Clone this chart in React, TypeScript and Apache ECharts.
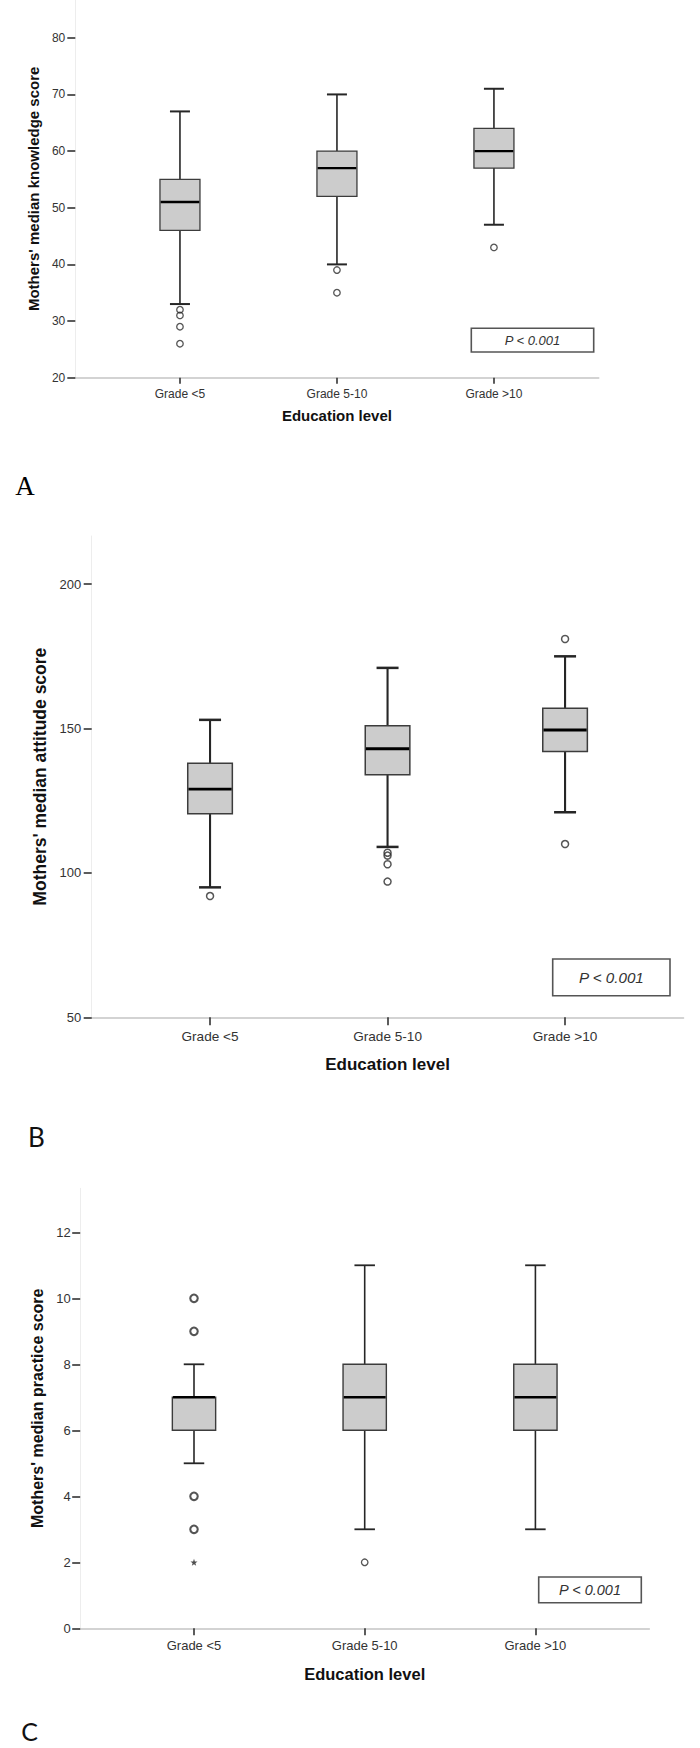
import React, { useEffect, useRef } from 'react';
import * as echarts from 'echarts';

// ---------- data ----------
const categories = ['Grade <5', 'Grade 5-10', 'Grade >10'];
const categoryPositions = [1, 2, 3];

// [position, lowerWhisker, Q1, median, Q3, upperWhisker]
const knowledgeBoxes = [
  [1, 33, 46, 51, 55, 67],
  [2, 40, 52, 57, 60, 70],
  [3, 47, 57, 60, 64, 71],
];
const knowledgeOutliers = [[1, 32], [1, 31], [1, 29], [1, 26], [2, 39], [2, 35], [3, 43]];
const knowledgeTicks = [20, 30, 40, 50, 60, 70, 80];

const attitudeBoxes = [
  [1, 95, 120.5, 129, 138, 153],
  [2, 109, 134, 143, 151, 171],
  [3, 121, 142, 149.5, 157, 175],
];
const attitudeOutliers = [[1, 92], [2, 107], [2, 106], [2, 103], [2, 97], [3, 181], [3, 110]];
const attitudeTicks = [50, 100, 150, 200];

const practiceBoxes = [
  [1, 5, 6, 7, 7, 8],
  [2, 3, 6, 7, 8, 11],
  [3, 3, 6, 7, 8, 11],
];
const practiceOutliersBold = [[1, 10], [1, 9], [1, 4], [1, 3]];
const practiceOutliersThin = [[2, 2]];
const practiceExtremes = [[1, 2]];
const practiceTicks = [0, 2, 4, 6, 8, 10, 12];

const pValueText = 'P < 0.001';
const xTitle = 'Education level';

// ---------- layout / style ----------
const SANS = "'Liberation Sans', Arial, sans-serif";
const panels = [
  {
    yTitle: "Mothers' median knowledge score",
    boxes: knowledgeBoxes, ticks: knowledgeTicks, yMin: 20, yMax: 86.667,
    grid: { left: 75.3, top: -27, width: 523.3, height: 404.7 },
    boxWidth: 40, capWidth: 20, whisker: 1.6, cap: 2, median: 2.4, boxStroke: 1.3,
    tickFont: 12, xLabelFont: 12, xLabelMargin: 10, xTickLen: 6, yLabelMargin: 10,
    yTitleFont: 15, yTitleGap: 30, xTitleFont: 15, xTitleGap: 30,
    pBox: { x: 471.3, y: 328.3, w: 122.4, h: 23.7, font: 13 },
  },
  {
    yTitle: "Mothers' median attitude score",
    boxes: attitudeBoxes, ticks: attitudeTicks, yMin: 50, yMax: 216.667,
    grid: { left: 91.7, top: 536, width: 591.7, height: 481.3 },
    boxWidth: 44.6, capWidth: 22, whisker: 2.1, cap: 2.5, median: 2.9, boxStroke: 1.5,
    tickFont: 13, xLabelFont: 13.6, xLabelMargin: 12, xTickLen: 8, yLabelMargin: 10.5,
    yTitleFont: 17.5, yTitleGap: 42, xTitleFont: 17, xTitleGap: 39,
    pBox: { x: 552.7, y: 959, w: 117.3, h: 36.7, font: 15.2 },
  },
  {
    yTitle: "Mothers' median practice score",
    boxes: practiceBoxes, ticks: practiceTicks, yMin: 0, yMax: 13.333,
    grid: { left: 80.2, top: 1188.3, width: 569, height: 440 },
    boxWidth: 43.3, capWidth: 20.5, whisker: 1.6, cap: 1.8, median: 2.4, boxStroke: 1.4,
    tickFont: 13, xLabelFont: 13, xLabelMargin: 11, xTickLen: 7, yLabelMargin: 9.5,
    yTitleFont: 16, yTitleGap: 34, xTitleFont: 16.5, xTitleGap: 37,
    pBox: { x: 538.7, y: 1577, w: 102.6, h: 25.7, font: 14.5 },
  },
];

const STAR = 'path://M0,-10L2.35,-3.24L9.51,-3.09L3.8,1.24L5.88,8.09L0,4L-5.88,8.09L-3.8,1.24L-9.51,-3.09L-2.35,-3.24Z';

function makeRenderItem(p: any) {
  return (_params: any, api: any) => {
    const x = api.value(0);
    const lo = api.coord([x, api.value(1)]);
    const q1 = api.coord([x, api.value(2)]);
    const md = api.coord([x, api.value(3)]);
    const q3 = api.coord([x, api.value(4)]);
    const hi = api.coord([x, api.value(5)]);
    const cx = lo[0];
    const hw = p.boxWidth / 2;
    const cw = p.capWidth / 2;
    const ws = { stroke: '#262626', lineWidth: p.whisker };
    const cs = { stroke: '#262626', lineWidth: p.cap };
    return {
      type: 'group',
      children: [
        { type: 'line', shape: { x1: cx, y1: q3[1], x2: cx, y2: hi[1] }, style: ws },
        { type: 'line', shape: { x1: cx, y1: q1[1], x2: cx, y2: lo[1] }, style: ws },
        { type: 'line', shape: { x1: cx - cw, y1: hi[1], x2: cx + cw, y2: hi[1] }, style: cs },
        { type: 'line', shape: { x1: cx - cw, y1: lo[1], x2: cx + cw, y2: lo[1] }, style: cs },
        {
          type: 'rect',
          shape: { x: cx - hw, y: q3[1], width: 2 * hw, height: q1[1] - q3[1] },
          style: { fill: '#cccccc', stroke: '#3c3c3c', lineWidth: p.boxStroke },
        },
        { type: 'line', shape: { x1: cx - hw + 0.7, y1: md[1], x2: cx + hw - 0.7, y2: md[1] }, style: { stroke: '#000', lineWidth: p.median } },
      ],
    };
  };
}

function outlierSeries(i: number, data: number[][], size: number, width: number) {
  return {
    type: 'scatter', xAxisIndex: i, yAxisIndex: i, data, symbol: 'circle', symbolSize: size,
    itemStyle: { color: 'rgba(0,0,0,0)', borderColor: '#2a2a2a', borderWidth: width },
    z: 5,
  };
}

function buildOption() {
  const grids = panels.map((p) => ({ ...p.grid, containLabel: false }));
  const xAxes = panels.map((p, i) => ({
    gridIndex: i, type: 'value', min: 1 / 3, max: 11 / 3,
    axisLine: { show: true, onZero: false, lineStyle: { color: '#d3d3d3', width: 1.8 } },
    axisTick: { show: true, customValues: categoryPositions, length: p.xTickLen, lineStyle: { color: '#333', width: 1.6 } },
    axisLabel: {
      customValues: categoryPositions, margin: p.xLabelMargin,
      formatter: (v: number) => categories[Math.round(v) - 1] ?? '',
      fontFamily: SANS, fontSize: p.xLabelFont, color: '#333',
    },
    splitLine: { show: false },
    name: xTitle, nameLocation: 'middle', nameGap: p.xTitleGap,
    nameTextStyle: { fontFamily: SANS, fontWeight: 'bold', fontSize: p.xTitleFont, color: '#111' },
  }));
  const yAxes = panels.map((p, i) => ({
    gridIndex: i, type: 'value', min: p.yMin, max: p.yMax,
    axisLine: { show: true, onZero: false, lineStyle: { color: '#ededed', width: 1 } },
    axisTick: { show: true, customValues: p.ticks, length: 8, lineStyle: { color: '#333', width: 1.6 } },
    axisLabel: { customValues: p.ticks, margin: p.yLabelMargin, fontFamily: SANS, fontSize: p.tickFont, color: '#333' },
    splitLine: { show: false },
    name: p.yTitle, nameLocation: 'middle', nameRotate: 90, nameGap: p.yTitleGap,
    nameTextStyle: { fontFamily: SANS, fontWeight: 'bold', fontSize: p.yTitleFont, color: '#111' },
  }));

  const series: any[] = [];
  panels.forEach((p, i) => {
    series.push({
      type: 'custom', xAxisIndex: i, yAxisIndex: i, data: p.boxes,
      encode: { x: 0, y: [1, 2, 3, 4, 5] },
      renderItem: makeRenderItem(p), z: 3,
    });
  });
  series.push(outlierSeries(0, knowledgeOutliers, 6.5, 1.3));
  series.push(outlierSeries(1, attitudeOutliers, 7, 1.5));
  series.push(outlierSeries(2, practiceOutliersBold, 7.5, 2.1));
  series.push(outlierSeries(2, practiceOutliersThin, 6.5, 1.3));
  series.push({
    type: 'scatter', xAxisIndex: 2, yAxisIndex: 2, data: practiceExtremes, symbol: STAR, symbolSize: 7,
    itemStyle: { color: '#222' }, z: 5,
  });

  const graphic: any[] = [];
  panels.forEach((p) => {
    const b = p.pBox;
    graphic.push({
      type: 'rect', shape: { x: b.x, y: b.y, width: b.w, height: b.h },
      style: { fill: '#fff', stroke: '#555', lineWidth: 1.6 }, z: 10,
    });
    graphic.push({
      type: 'text', x: b.x + b.w / 2, y: b.y + b.h / 2, z: 11,
      style: {
        text: pValueText, fontFamily: SANS, fontStyle: 'italic', fontSize: b.font, fill: '#333',
        textAlign: 'center', textVerticalAlign: 'middle',
      },
    });
  });
  graphic.push({
    type: 'text', x: 25, y: 486,
    style: { text: 'A', fontFamily: "'Liberation Serif', 'Times New Roman', serif", fontSize: 27, fill: '#000', textAlign: 'center', textVerticalAlign: 'middle' },
  });
  graphic.push({
    type: 'text', x: 36.5, y: 1137,
    style: { text: 'B', fontFamily: 'Lato, sans-serif', fontSize: 26, fill: '#111', textAlign: 'center', textVerticalAlign: 'middle' },
  });
  graphic.push({
    type: 'text', x: 29.5, y: 1731,
    style: { text: 'C', fontFamily: 'Lato, sans-serif', fontSize: 25, fill: '#111', textAlign: 'center', textVerticalAlign: 'middle' },
  });

  return {
    animation: false,
    backgroundColor: '#ffffff',
    grid: grids,
    xAxis: xAxes,
    yAxis: yAxes,
    series,
    graphic,
  };
}

export default function App() {
  const ref = useRef<HTMLDivElement>(null);
  useEffect(() => {
    if (!ref.current) return;
    const chart = echarts.init(ref.current, undefined, { renderer: 'svg' });
    chart.setOption(buildOption() as any);
    return () => chart.dispose();
  }, []);
  return (
    <div
      ref={ref}
      style={{ position: 'absolute', left: 0, top: 0, width: 700, height: 1748, background: '#fff' }}
    />
  );
}
